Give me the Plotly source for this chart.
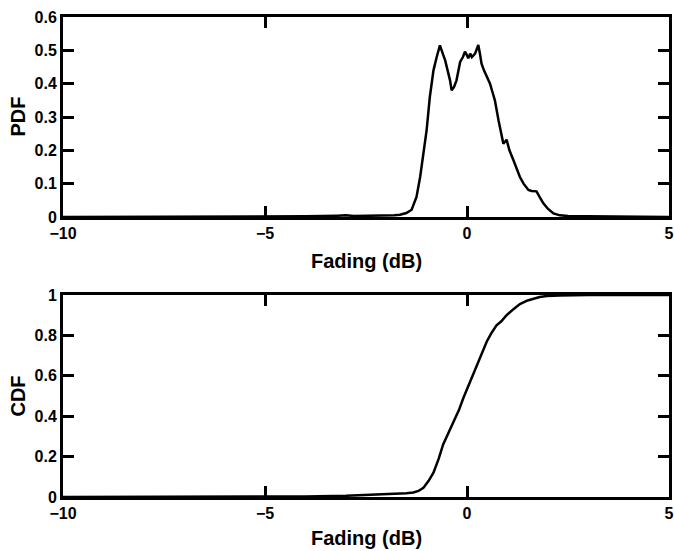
import plotly.graph_objects as go
from plotly.subplots import make_subplots

pdf_x = [-10, -6, -4, -3.2, -3, -2.8, -2.5, -2, -1.8, -1.66, -1.5, -1.37, -1.25, -1.16, -1.08, -1.0,
         -0.92, -0.83, -0.75, -0.67, -0.6, -0.54, -0.48, -0.42, -0.38, -0.32, -0.26, -0.17, -0.1,
         -0.05, 0.0, 0.03, 0.08, 0.12, 0.2, 0.28, 0.32, 0.36, 0.42, 0.49, 0.57, 0.63, 0.69, 0.78,
         0.85, 0.90, 0.98, 1.05, 1.15, 1.25, 1.31, 1.4, 1.52, 1.6, 1.72, 1.8, 1.89, 2.0, 2.14, 2.3,
         2.5, 3, 4, 5]
pdf_y = [0, 0.001, 0.002, 0.004, 0.005, 0.003, 0.003, 0.004, 0.005, 0.007, 0.012, 0.022, 0.06, 0.12,
         0.19, 0.26, 0.36, 0.44, 0.48, 0.515, 0.49, 0.47, 0.44, 0.41, 0.38, 0.39, 0.41, 0.465, 0.48,
         0.496, 0.485, 0.476, 0.49, 0.48, 0.49, 0.516, 0.49, 0.46, 0.44, 0.42, 0.40, 0.375, 0.35,
         0.29, 0.25, 0.22, 0.232, 0.2, 0.17, 0.135, 0.12, 0.10, 0.081, 0.078, 0.077, 0.06, 0.041,
         0.025, 0.011, 0.005, 0.003, 0.002, 0.001, 0]

cdf_x = [-10, -6, -4, -3, -2.5, -2, -1.5, -1.33, -1.2, -1.08, -0.95, -0.83, -0.7, -0.59, -0.45,
         -0.34, -0.2, -0.09, 0.05, 0.24, 0.38, 0.49, 0.6, 0.73, 0.85, 0.98, 1.15, 1.31, 1.5, 1.64,
         1.8, 1.97, 2.3, 3, 5]
cdf_y = [0, 0.001, 0.003, 0.006, 0.009, 0.012, 0.018, 0.022, 0.03, 0.045, 0.08, 0.12, 0.19, 0.26,
         0.32, 0.37, 0.43, 0.49, 0.56, 0.65, 0.72, 0.77, 0.81, 0.85, 0.87, 0.9, 0.93, 0.955, 0.973,
         0.982, 0.99, 0.995, 0.998, 1, 1]

x_ticks = [-10, -5, 0, 5]
pdf_ticks = [0, 0.1, 0.2, 0.3, 0.4, 0.5, 0.6]
pdf_labels = ["0", "0.1", "0.2", "0.3", "0.4", "0.5", "0.6"]
cdf_ticks = [0, 0.2, 0.4, 0.6, 0.8, 1]
cdf_labels = ["0", "0.2", "0.4", "0.6", "0.8", "1"]
x_title = "Fading (dB)"

fig = make_subplots(rows=2, cols=1, vertical_spacing=0.1625)
fig.add_trace(go.Scatter(x=pdf_x, y=pdf_y, mode="lines", line=dict(color="black", width=2.5)), row=1, col=1)
fig.add_trace(go.Scatter(x=cdf_x, y=cdf_y, mode="lines", line=dict(color="black", width=2.5)), row=2, col=1)

font_fam = "Liberation Sans, Arial, sans-serif"
tickfont = dict(family=font_fam, size=16, color="black", weight="bold")
titlefont = dict(family=font_fam, size=20, color="black", weight="bold")

axis_common = dict(showgrid=False, zeroline=False, showline=True, linecolor="black", linewidth=3,
                   mirror="allticks", ticks="inside", ticklen=11, tickwidth=2.5, tickcolor="black",
                   tickfont=tickfont, automargin=False)

fig.update_xaxes(**axis_common, range=[-10, 5], tickvals=x_ticks)
fig.update_yaxes(**axis_common)
fig.update_yaxes(range=[0, 0.6], tickvals=pdf_ticks, ticktext=pdf_labels, row=1, col=1)
fig.update_yaxes(range=[0, 1], tickvals=cdf_ticks, ticktext=cdf_labels, row=2, col=1)

fig.update_layout(width=674, height=551, margin=dict(l=63, r=5, t=17, b=54),
                  paper_bgcolor="white", plot_bgcolor="white", showlegend=False,
                  font=dict(family=font_fam, color="black"))
fig.update_layout(yaxis=dict(domain=[0.5833, 1]), yaxis2=dict(domain=[0, 0.4208]))

ann = dict(xref="paper", yref="paper", showarrow=False, font=titlefont, xanchor="center", yanchor="middle")
fig.add_annotation(text=x_title, x=0.5, y=0.4917, **ann)
fig.add_annotation(text=x_title, x=0.5, y=-0.0854, **ann)
fig.add_annotation(text="PDF", x=-0.075, y=0.7917, textangle=-90, **ann)
fig.add_annotation(text="CDF", x=-0.075, y=0.2104, textangle=-90, **ann)

fig.write_html("out.html")
